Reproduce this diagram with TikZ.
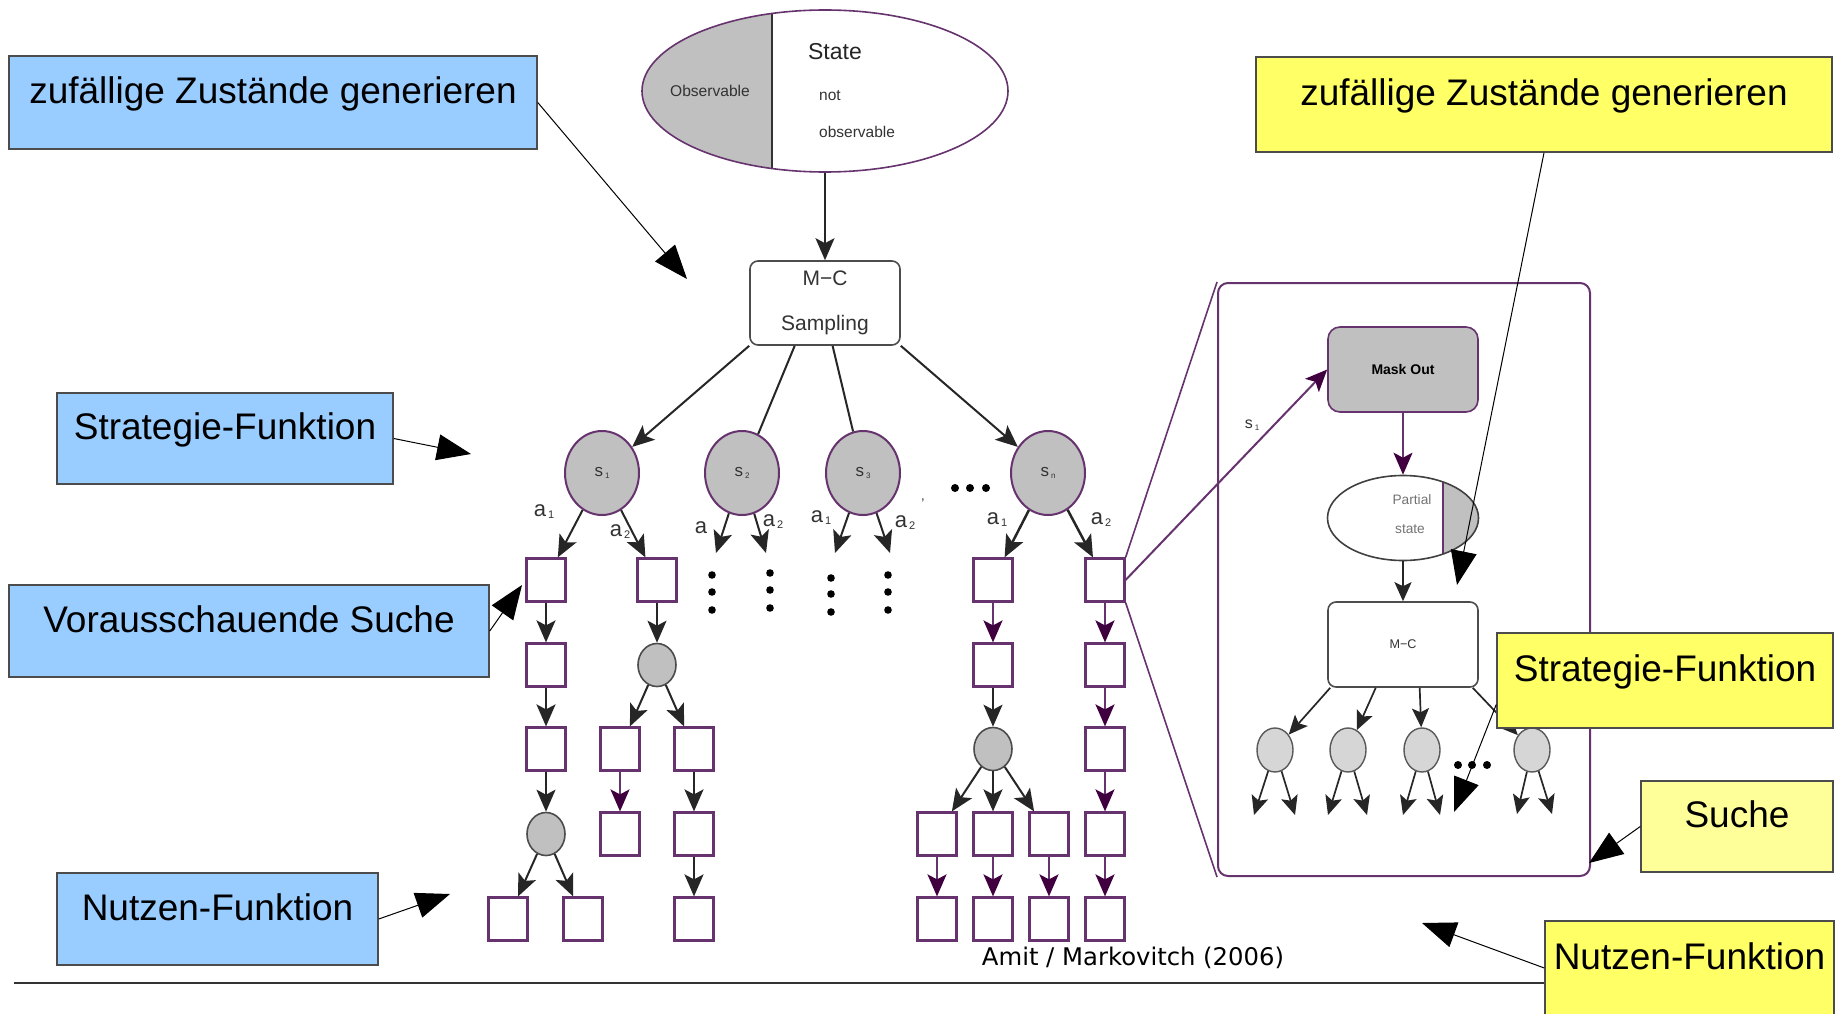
\documentclass[tikz,border=0pt]{standalone}
\usepackage{fontspec}
\setmainfont{Liberation Sans}
\newfontfamily\dejavu{DejaVu Sans}
\usetikzlibrary{positioning,arrows.meta,calc,shapes.geometric}
\definecolor{lila}{RGB}{102,51,110}
\definecolor{dlila}{RGB}{64,0,64}
\definecolor{sgray}{RGB}{192,192,192}
\definecolor{lgray}{RGB}{214,214,214}
\definecolor{tgray}{RGB}{51,51,51}
\definecolor{cblue}{RGB}{153,204,255}
\definecolor{cyel}{RGB}{255,255,102}
\definecolor{cpale}{RGB}{255,255,153}
\newcommand{\fsz}[1]{\fontsize{#1pt}{#1pt}\selectfont}
\newcommand{\sbx}[2]{\hspace{2pt}\raisebox{-2pt}{\fsz{#1}#2}}
\tikzset{
  sq/.style={rectangle, draw=lila, line width=2.2pt, fill=white, minimum width=39pt,
             minimum height=43pt, inner sep=0pt},
  sst/.style={ellipse, draw=lila, line width=2pt, fill=sgray, minimum width=74pt,
              minimum height=84pt, inner sep=0pt, font=\fsz{17}, text=tgray},
  ch/.style={ellipse, draw=black!70, line width=1.6pt, fill=sgray, minimum width=38pt,
             minimum height=43pt, inner sep=0pt},
  ic/.style={ellipse, draw=black!65, line width=1.4pt, fill=lgray, minimum width=36pt,
             minimum height=44pt, inner sep=0pt},
  rbox/.style={rectangle, rounded corners=8pt, draw=black!70, line width=1.6pt, fill=white,
               minimum width=150pt, minimum height=85pt, inner sep=0pt, text=tgray},
  txt/.style={inner sep=0pt, text=tgray},
  alab/.style={inner sep=0pt, text=tgray, font=\fsz{22}},
  arr/.style={line width=2pt, draw=black!85, -{Stealth[length=22pt,width=19pt,inset=5pt]}},
  parr/.style={line width=2pt, draw=lila, -{Stealth[length=22pt,width=19pt,inset=5pt,color=dlila]}},
  sarr/.style={line width=1.7pt, draw=black!85, -{Stealth[length=19pt,width=17pt,inset=4pt]}},
  ln/.style={line width=2pt, draw=black!85},
  zl/.style={line width=1.6pt, draw=lila},
  call/.style={rectangle, draw=black!70, line width=1.5pt, inner sep=0pt, font=\fsz{37},
               text height=27pt, text depth=25pt},
  blu/.style={call, fill=cblue},
  yel/.style={call, fill=cyel},
  carr/.style={line width=1pt, draw=black, -{Triangle[length=34pt,width=26pt]}},
}
\begin{document}
\begin{tikzpicture}[x=1pt, y=-1pt]
  \path[use as bounding box, fill=white] (0,0) rectangle (1837,1014);
  % state + sampling
  \node[ellipse, draw=lila, line width=1.6pt, minimum width=366pt, minimum height=162pt, inner sep=0pt,
        path picture={
          \fill[sgray] (path picture bounding box.north west) rectangle ([xshift=-53pt]path picture bounding box.south);
          \draw[line width=1.6pt, black!80] ([xshift=-53pt]path picture bounding box.north) -- ([xshift=-53pt]path picture bounding box.south);
        }] (state) at (825,91) {};
  \node[txt, text=black!85, font=\fsz{23}] (sttl) at (835,52) {State};
  \node[txt, font=\fsz{15.6}] (obsl) at (710,91) {Observable};
  \node[txt, font=\fsz{15.5}, anchor=west] (nob1) at (819,96) {not};
  \node[txt, font=\fsz{15.5}, anchor=west] (nob2) at (819,132) {observable};
  \node[rbox, minimum height=84pt, align=center, font=\fontsize{21pt}{45pt}\selectfont] (mc) at (825,303) {M−C\\Sampling};
  \draw[arr] (state) -- (mc);
  % sampled states
  \node[sst] (s1) at (602,473) {s\sbx{8}{1}};
  \node[sst] (s2) at (742,473) {s\sbx{8}{2}};
  \node[sst] (s3) at (863,473) {s\sbx{8}{3}};
  \node[sst] (sn) at (1048,473) {s\sbx{8}{n}};
  \draw[arr] (mc.south west) -- (s1);
  \draw[ln] ($(mc.south west)!0.3!(mc.south east)$) -- (s2);
  \draw[ln] ($(mc.south west)!0.55!(mc.south east)$) -- (s3);
  \draw[arr] (mc.south east) -- (sn);
  \fill (955,488) circle (4pt) (970,488) circle (4pt) (986,488) circle (4pt);
  % column 1
  \node[sq] (b11) at (546,580) {};
  \node[sq] (b12) at (546,665) {};
  \node[sq] (b13) at (546,749) {};
  \node[ch] (ch1) at (546,834) {};
  \node[sq] (b1l) at (508,919) {};
  \node[sq] (b1r) at (583,919) {};
  % column 2
  \node[sq] (b21) at (657,580) {};
  \node[ch] (ch2) at (657,665) {};
  \node[sq] (b2l) at (620,749) {};
  \node[sq] (b2r) at (694,749) {};
  \node[sq] (b2l2) at (620,834) {};
  \node[sq] (b2r2) at (694,834) {};
  \node[sq] (b2r3) at (694,919) {};
  % column 3
  \node[sq] (b31) at (993,580) {};
  \node[sq] (b32) at (993,665) {};
  \node[ch] (ch3) at (993,749) {};
  \node[sq] (b3l) at (937,834) {};
  \node[sq] (b3m) at (993,834) {};
  \node[sq] (b3r) at (1049,834) {};
  \node[sq] (b3l2) at (937,919) {};
  \node[sq] (b3m2) at (993,919) {};
  \node[sq] (b3r2) at (1049,919) {};
  % column 4
  \node[sq] (b41) at (1105,580) {};
  \node[sq] (b42) at (1105,665) {};
  \node[sq] (b43) at (1105,749) {};
  \node[sq] (b44) at (1105,834) {};
  \node[sq] (b45) at (1105,919) {};
  % actions
  \coordinate (k2a) at (716,553);
  \coordinate (k2b) at (766,553);
  \coordinate (k3a) at (835,553);
  \coordinate (k3b) at (890,553);
  \draw[arr] (s1) -- (b11);
  \draw[arr] (s1) -- (b21);
  \draw[arr] (s2) -- (k2a);
  \draw[arr] (s2) -- (k2b);
  \draw[arr] (s3) -- (k3a);
  \draw[arr] (s3) -- (k3b);
  \draw[arr, line width=2.5pt] (sn) -- (b31);
  \draw[arr, line width=2.5pt] (sn) -- (b41);
  \node[alab] (l11) at (544,512) {a\sbx{11}{1}};
  \node[alab] (l12) at (620,532) {a\sbx{11}{2}};
  \node[alab] (l21) at (701,528) {a};
  \node[alab] (l22) at (773,522) {a\sbx{11}{2}};
  \node[alab] (l31) at (821,518) {a\sbx{11}{1}};
  \node[alab] (l32) at (905,523) {a\sbx{11}{2}};
  \node[alab] (ln1) at (997,520) {a\sbx{11}{1}};
  \node[alab] (ln2) at (1101,520) {a\sbx{11}{2}};
  \node[alab, font=\fsz{14}] (tick) at (923,504) {'};
  % unexpanded branches
  \fill (712,575) circle (3.8pt) (712,592) circle (3.8pt) (712,610) circle (3.8pt);
  \fill (770,573) circle (3.8pt) (770,590) circle (3.8pt) (770,608) circle (3.8pt);
  \fill (831,578) circle (3.8pt) (831,594) circle (3.8pt) (831,612) circle (3.8pt);
  \fill (888,575) circle (3.8pt) (888,592) circle (3.8pt) (888,610) circle (3.8pt);
  % lookahead edges
  \draw[arr] (b11) -- (b12);
  \draw[arr] (b12) -- (b13);
  \draw[arr] (b13) -- (ch1);
  \draw[arr] (ch1) -- (b1l);
  \draw[arr] (ch1) -- (b1r);
  \draw[arr] (b21) -- (ch2);
  \draw[arr] (ch2) -- (b2l);
  \draw[arr] (ch2) -- (b2r);
  \draw[parr] (b2l) -- (b2l2);
  \draw[arr] (b2r) -- (b2r2);
  \draw[arr] (b2r2) -- (b2r3);
  \draw[parr] (b31) -- (b32);
  \draw[arr] (b32) -- (ch3);
  \draw[arr] (ch3) -- (b3l);
  \draw[arr] (ch3) -- (b3m);
  \draw[arr] (ch3) -- (b3r);
  \draw[parr] (b3l) -- (b3l2);
  \draw[parr] (b3m) -- (b3m2);
  \draw[parr] (b3r) -- (b3r2);
  \draw[parr] (b41) -- (b42);
  \draw[parr] (b42) -- (b43);
  \draw[parr] (b43) -- (b44);
  \draw[parr] (b44) -- (b45);
  % zoomed panel
  \node[rectangle, rounded corners=10pt, draw=lila, line width=2pt, minimum width=372pt,
        minimum height=593pt, inner sep=0pt] (pan) at (1404,579.5) {};
  \draw[zl] (b41.north east) -- (pan.north west);
  \draw[zl] (b41.south east) -- (pan.south west);
  \node[rbox, draw=lila, fill=sgray, rounded corners=12pt, text=black, font=\bfseries\fsz{14}] (mo) at (1403,369.5) {Mask Out};
  \draw[parr] (b41.east) -- (mo.west);
  \node[txt, font=\fsz{16}] (sl1) at (1252,425) {s\sbx{8}{1}};
  \node[ellipse, draw=black!75, line width=1.6pt, minimum width=151pt, minimum height=85pt, inner sep=0pt,
        path picture={
          \fill[sgray] ([xshift=40pt]path picture bounding box.north) rectangle (path picture bounding box.south east);
          \draw[line width=1.6pt, lila] ([xshift=40pt]path picture bounding box.north) -- ([xshift=40pt]path picture bounding box.south);
        }] (part) at (1403,518) {};
  \node[txt, font=\fsz{13.7}, text=black!55] (partl) at (1412,500) {Partial};
  \node[txt, font=\fsz{13.7}, text=black!55] (statl) at (1410,529) {state};
  \draw[parr] (mo) -- (part);
  \node[rbox, font=\fsz{12.6}] (mc2) at (1403,644.5) {M−C};
  \draw[sarr] (part) -- (mc2);
  \node[ic] (ic1) at (1275,750) {};
  \node[ic] (ic2) at (1348,750) {};
  \node[ic] (ic3) at (1422,750) {};
  \node[ic] (ic4) at (1532,750) {};
  \draw[sarr] ($(mc2.south west)!0.02!(mc2.south east)$) -- (ic1);
  \draw[sarr] ($(mc2.south west)!0.32!(mc2.south east)$) -- (ic2);
  \draw[sarr] ($(mc2.south west)!0.61!(mc2.south east)$) -- (ic3);
  \draw[sarr] ($(mc2.south west)!0.96!(mc2.south east)$) -- (ic4);
  \fill (1458,765) circle (4pt) (1472,765) circle (4pt) (1487,765) circle (4pt);
  \coordinate (q1a) at (1254,815);
  \coordinate (q1b) at (1295,815);
  \coordinate (q2a) at (1328,815);
  \coordinate (q2b) at (1367,815);
  \coordinate (q3a) at (1403,815);
  \coordinate (q3b) at (1440,815);
  \coordinate (q4a) at (1517,814);
  \coordinate (q4b) at (1552,814);
  \draw[sarr] (ic1) -- (q1a);
  \draw[sarr] (ic1) -- (q1b);
  \draw[sarr] (ic2) -- (q2a);
  \draw[sarr] (ic2) -- (q2b);
  \draw[sarr] (ic3) -- (q3a);
  \draw[sarr] (ic3) -- (q3b);
  \draw[sarr] (ic4) -- (q4a);
  \draw[sarr] (ic4) -- (q4b);
  % source line
  \draw[line width=1.8pt, black!80] (14,983) -- (1546,983);
  \node[txt, text=black, font=\dejavu\fsz{24.3}] (cite) at (1133,958) {Amit / Markovitch (2006)};
  % callouts
  \node[blu, minimum width=528pt, minimum height=93pt] (cb1) at (273,102.5) {zufällige Zustände generieren};
  \node[blu, minimum width=336pt, minimum height=91pt] (cb2) at (225,438.5) {Strategie-Funktion};
  \node[blu, minimum width=480pt, minimum height=92pt] (cb3) at (249,631) {Vorausschauende Suche};
  \node[blu, minimum width=321pt, minimum height=92pt] (cb4) at (217.5,919) {Nutzen-Funktion};
  \node[yel, minimum width=576pt, minimum height=95pt] (cy1) at (1544,104.5) {zufällige Zustände generieren};
  \node[yel, minimum width=336pt, minimum height=95pt] (cy2) at (1665,680.5) {Strategie-Funktion};
  \node[yel, fill=cpale, minimum width=192pt, minimum height=91pt] (cy3) at (1737,826.5) {Suche};
  \node[yel, minimum width=289pt, minimum height=94pt] (cy4) at (1689.5,968) {Nutzen-Funktion};
  \coordinate (t1) at (687,279);
  \coordinate (t2) at (1457,585);
  \coordinate (t3) at (471,454);
  \coordinate (t4) at (522,585);
  \coordinate (t5) at (450,894);
  \coordinate (t6) at (1454,812);
  \coordinate (t7) at (1589,863);
  \coordinate (t8) at (1422,923);
  \draw[carr] (cb1.east) -- (t1);
  \draw[carr] (cy1.south) -- (t2);
  \draw[carr] (cb2.east) -- (t3);
  \draw[carr] (cb3.east) -- (t4);
  \draw[carr] (cb4.east) -- (t5);
  \draw[carr] ([yshift=-24pt]cy2.west) -- (t6);
  \draw[carr] (cy3.west) -- (t7);
  \draw[carr] (cy4.west) -- (t8);
\end{tikzpicture}
\end{document}
